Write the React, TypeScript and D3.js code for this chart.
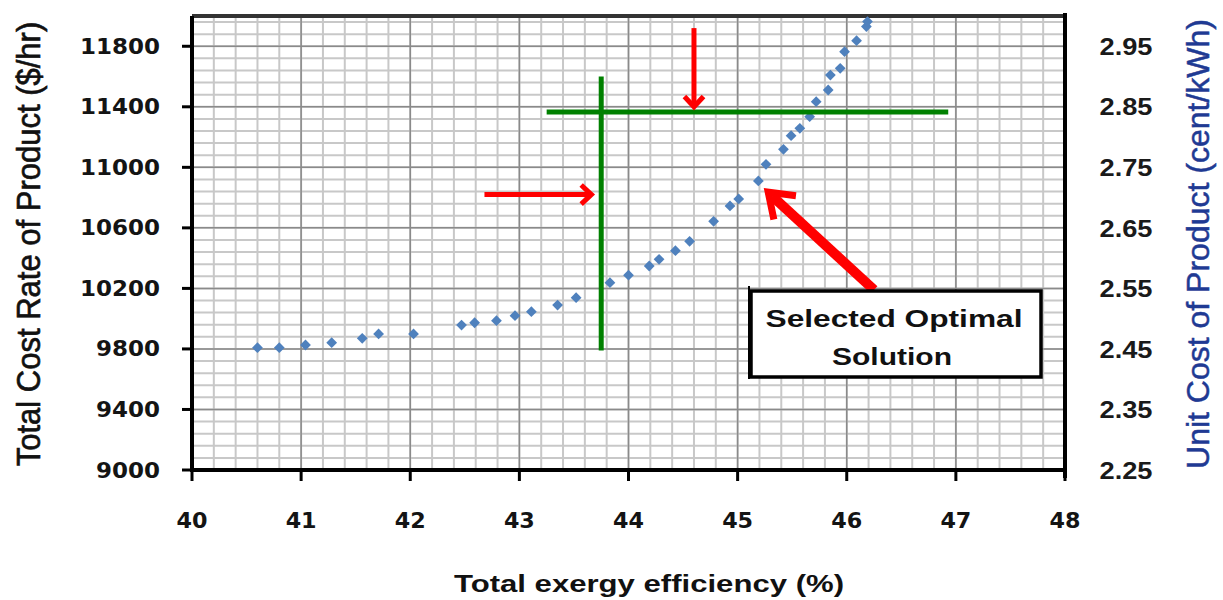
import React from 'react';
import * as d3 from 'd3';

// exergy efficiency (%) vs total cost rate ($/hr)
const effValues = [
  40.60, 40.80, 41.04, 41.28, 41.56, 41.71, 42.03, 42.47, 42.59, 42.79, 42.96, 43.11,
  43.35, 43.52, 43.83, 44.00, 44.19, 44.28, 44.43, 44.56, 44.78, 44.93, 45.01, 45.19,
  45.26, 45.42, 45.49, 45.57, 45.66, 45.72, 45.83, 45.85, 45.94, 45.98, 46.09, 46.18, 46.19,
];
const costValues = [
  9808, 9808, 9826, 9841, 9870, 9899, 9899, 9958, 9973, 9987, 10020, 10046,
  10090, 10139, 10238, 10287, 10348, 10392, 10449, 10511, 10643, 10745, 10791, 10910,
  11020, 11119, 11209, 11258, 11335, 11434, 11511, 11610, 11654, 11764, 11837, 11930, 11963,
];

const xTicks = [40, 41, 42, 43, 44, 45, 46, 47, 48];
const yTicks = [9000, 9400, 9800, 10200, 10600, 11000, 11400, 11800];
const y2Ticks = [2.25, 2.35, 2.45, 2.55, 2.65, 2.75, 2.85, 2.95];

// annotation lines / arrows in data units
const greenV = { x: 43.75, y0: 9790, y1: 11600 };
const greenH = { y: 11365, x0: 43.25, x1: 46.93 };
const arrowDown = { x: 44.6, y0: 11920, y1: 11400 };
const arrowRight = { y: 10820, x0: 42.68, x1: 43.66 };
const arrowBig = { x0: 46.25, y0: 10190, x1: 45.28, y1: 10836 };

const W = 1223;
const H = 600;
const left = 192, right = 1065, top = 16, bottom = 470;

const App: React.FC = () => {
  const x = d3.scaleLinear().domain([40, 48]).range([left, right]);
  const y = d3.scaleLinear().domain([9000, 12000]).range([bottom, top]);
  const y2 = d3.scaleLinear().domain([2.25, 3.0]).range([bottom, top]);

  const minorX = d3.range(40, 48.001, 0.2).map(v => +v.toFixed(1));
  const minorY = d3.range(9000, 12000.1, 80);

  const diamond = d3.symbol(d3.symbolSquare, 58)();

  const tickFont = '"DejaVu Sans", Verdana, sans-serif';
  const arial = '"Liberation Sans", Arial, sans-serif';
  const red = '#ff0000';

  // open arrowhead at (tx,ty) pointing along direction from (fx,fy)
  const head = (fx: number, fy: number, tx: number, ty: number, len: number, spread: number) => {
    const a = Math.atan2(ty - fy, tx - fx);
    const p1 = [tx - len * Math.cos(a - spread), ty - len * Math.sin(a - spread)];
    const p2 = [tx - len * Math.cos(a + spread), ty - len * Math.sin(a + spread)];
    return `M${p1[0]},${p1[1]}L${tx},${ty}L${p2[0]},${p2[1]}`;
  };

  const midY = (top + bottom) / 2 + 1;

  return (
    <div style={{ position: 'fixed', left: 0, top: 0, width: W, height: H, overflow: 'hidden', background: '#fff' }}>
      <svg width={W} height={H} style={{ display: 'block' }}>
        {/* minor grid */}
        <g stroke="#c8c8c8" strokeWidth={2}>
          {minorX.map(v => (
            <line key={'mx' + v} x1={x(v)} x2={x(v)} y1={top} y2={bottom} />
          ))}
          {minorY.map(v => (
            <line key={'my' + v} x1={left} x2={right} y1={y(v)} y2={y(v)} />
          ))}
        </g>
        {/* major grid */}
        <g stroke="#8a8a8a" strokeWidth={1.5}>
          {xTicks.map(v => (
            <line key={'gx' + v} x1={x(v)} x2={x(v)} y1={top} y2={bottom} />
          ))}
          {yTicks.map(v => (
            <line key={'gy' + v} x1={left} x2={right} y1={y(v)} y2={y(v)} />
          ))}
        </g>

        {/* frame */}
        <line x1={left} x2={right} y1={top} y2={top} stroke="#333" strokeWidth={4} />
        <line x1={right} x2={right} y1={top - 3} y2={bottom + 8} stroke="#000" strokeWidth={4} />
        <line x1={left} x2={left} y1={top} y2={bottom + 2} stroke="#000" strokeWidth={4} />
        <line x1={left - 2} x2={right} y1={bottom} y2={bottom} stroke="#000" strokeWidth={4} />

        {/* left ticks */}
        {yTicks.map(v => (
          <g key={'yt' + v}>
            <line x1={left - 10} x2={left} y1={y(v)} y2={y(v)} stroke="#000" strokeWidth={3} />
            <text x={160} y={y(v)} dy="0.36em" textAnchor="end" fontFamily={tickFont}
              fontWeight="bold" fontSize={21} fill="#141414"
              textLength={String(v).length * 16} lengthAdjust="spacingAndGlyphs">{v}</text>
          </g>
        ))}
        {/* bottom ticks */}
        {xTicks.map(v => (
          <g key={'xt' + v}>
            <line x1={x(v)} x2={x(v)} y1={bottom} y2={bottom + 11} stroke="#000" strokeWidth={3} />
            <text x={x(v)} y={528} textAnchor="middle" fontFamily={tickFont}
              fontWeight="bold" fontSize={21} fill="#141414"
              textLength={31} lengthAdjust="spacingAndGlyphs">{v}</text>
          </g>
        ))}
        {/* right axis labels */}
        {y2Ticks.map(v => (
          <text key={'y2' + v} x={1126} y={y2(v)} dy="0.36em" textAnchor="middle"
            fontFamily={arial} fontWeight="bold" fontSize={24}
            fill="#1a1a1a" textLength={53} lengthAdjust="spacingAndGlyphs">{v.toFixed(2)}</text>
        ))}

        {/* axis titles */}
        <text transform={`translate(40,${midY}) rotate(-90) scale(1,1.06)`} textAnchor="middle"
          fontFamily={arial} fontSize={31} fill="#111" stroke="#111" strokeWidth={0.6}>
          Total Cost Rate of Product ($/hr)
        </text>
        <text transform={`translate(1209,${midY}) rotate(-90)`} textAnchor="middle"
          fontFamily={arial} fontSize={32} fill="#1f3a93" stroke="#1f3a93" strokeWidth={0.5}>
          Unit Cost of Product (cent/kWh)
        </text>
        <text x={649} y={592} textAnchor="middle" fontFamily={arial}
          fontWeight="bold" fontSize={24} fill="#111" textLength={390}
          lengthAdjust="spacingAndGlyphs">Total exergy efficiency (%)</text>

        {/* data points */}
        <g fill="#4f81bd">
          {effValues.map((e, i) => (
            <path key={'p' + i} d={diamond || ''}
              transform={`translate(${x(e)},${y(costValues[i])}) rotate(45)`} />
          ))}
        </g>

        {/* green guide lines */}
        <g stroke="#008000" strokeWidth={5}>
          <line x1={x(greenV.x)} x2={x(greenV.x)} y1={y(greenV.y0)} y2={y(greenV.y1)} />
          <line x1={x(greenH.x0)} x2={x(greenH.x1)} y1={y(greenH.y)} y2={y(greenH.y)} />
        </g>

        {/* red arrows */}
        <g stroke={red} fill="none" strokeLinejoin="miter">
          <line x1={x(arrowDown.x)} x2={x(arrowDown.x)} y1={y(arrowDown.y0)} y2={y(arrowDown.y1) - 2} strokeWidth={5} />
          <path d={head(x(arrowDown.x), y(arrowDown.y0), x(arrowDown.x), y(arrowDown.y1), 14, 0.75)} strokeWidth={5} />
          <line x1={x(arrowRight.x0)} x2={x(arrowRight.x1) - 2} y1={y(arrowRight.y)} y2={y(arrowRight.y)} strokeWidth={5} />
          <path d={head(x(arrowRight.x0), y(arrowRight.y), x(arrowRight.x1), y(arrowRight.y), 14, 0.75)} strokeWidth={5} />
          <line x1={x(arrowBig.x0)} y1={y(arrowBig.y0)} x2={x(arrowBig.x1) + 4} y2={y(arrowBig.y1) + 4} strokeWidth={10} />
          <path d={head(x(arrowBig.x0), y(arrowBig.y0), x(arrowBig.x1), y(arrowBig.y1), 28, 0.62)} strokeWidth={7} />
        </g>

        {/* callout box */}
        <rect x={751} y={291} width={290} height={86} fill="#fff" stroke="#000" strokeWidth={3.5} />
        <line x1={749} x2={749} y1={286} y2={379} stroke="#000" strokeWidth={2} />
        <g fontFamily={arial} fontWeight="bold" fontSize={23} fill="#111" textAnchor="middle">
          <text x={894} y={327} textLength={257} lengthAdjust="spacingAndGlyphs">Selected Optimal</text>
          <text x={892} y={365} textLength={120} lengthAdjust="spacingAndGlyphs">Solution</text>
        </g>
      </svg>
    </div>
  );
};

export default App;
